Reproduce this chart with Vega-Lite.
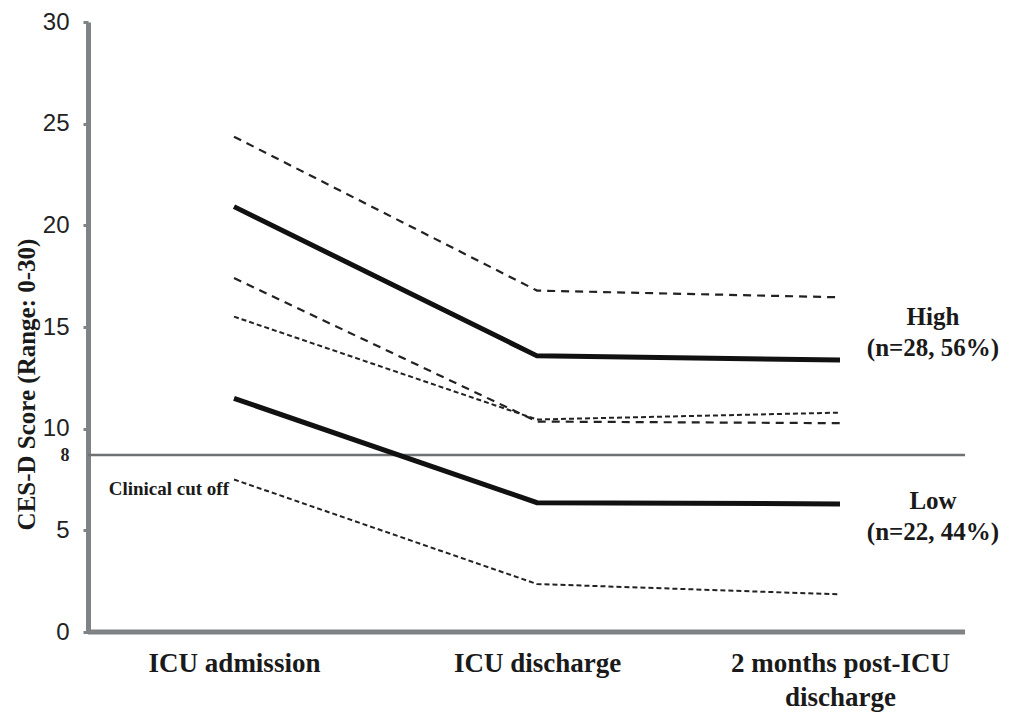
{
  "$schema": "https://vega.github.io/schema/vega-lite/v6.json",
  "autosize": {"type": "none"},
  "width": 877,
  "height": 610,
  "padding": {"left": 88, "top": 22, "right": 47, "bottom": 83},
  "background": "white",
  "config": {"view": {"stroke": null}},
  "datasets": {
    "lines": [
      {"series": "High mean", "time": "ICU admission", "score": 20.92},
      {"series": "High mean", "time": "ICU discharge", "score": 13.58},
      {"series": "High mean", "time": "2 months post-ICU discharge", "score": 13.38},
      {"series": "High upper", "time": "ICU admission", "score": 24.36},
      {"series": "High upper", "time": "ICU discharge", "score": 16.79},
      {"series": "High upper", "time": "2 months post-ICU discharge", "score": 16.46},
      {"series": "High lower", "time": "ICU admission", "score": 17.41},
      {"series": "High lower", "time": "ICU discharge", "score": 10.35},
      {"series": "High lower", "time": "2 months post-ICU discharge", "score": 10.27},
      {"series": "Low mean", "time": "ICU admission", "score": 11.49},
      {"series": "Low mean", "time": "ICU discharge", "score": 6.36},
      {"series": "Low mean", "time": "2 months post-ICU discharge", "score": 6.3},
      {"series": "Low upper", "time": "ICU admission", "score": 15.51},
      {"series": "Low upper", "time": "ICU discharge", "score": 10.45},
      {"series": "Low upper", "time": "2 months post-ICU discharge", "score": 10.79},
      {"series": "Low lower", "time": "ICU admission", "score": 7.5},
      {"series": "Low lower", "time": "ICU discharge", "score": 2.36},
      {"series": "Low lower", "time": "2 months post-ICU discharge", "score": 1.85}
    ],
    "groups": [
      {"time": "2 months post-ICU discharge", "score": 15.5, "label": "High\n(n=28, 56%)"},
      {"time": "2 months post-ICU discharge", "score": 6.45, "label": "Low\n(n=22, 44%)"}
    ],
    "cutoff": [
      {"time": "ICU admission", "score": 8.7, "label": "Clinical cut off", "labelScore": 7.05}
    ],
    "baseline": [
      {"score": 0}
    ]
  },
  "encoding": {
    "x": {
      "field": "time",
      "type": "ordinal",
      "sort": ["ICU admission", "ICU discharge", "2 months post-ICU discharge"],
      "scale": {"type": "point", "range": [146, 752], "padding": 0},
      "axis": {
        "title": null,
        "domain": false,
        "ticks": false,
        "labelAngle": 0,
        "labelFont": "Liberation Serif",
        "labelFontWeight": "bold",
        "labelFontSize": 27,
        "labelColor": "#1a1a1a",
        "labelPadding": 18,
        "labelLineHeight": 34,
        "labelLimit": 400,
        "labelExpr": "datum.value == '2 months post-ICU discharge' ? ['2 months post-ICU', 'discharge'] : datum.label"
      }
    },
    "y": {
      "field": "score",
      "type": "quantitative",
      "scale": {"domain": [0, 30], "nice": false, "zero": true},
      "axis": {
        "title": "CES-D Score (Range: 0-30)",
        "titleFont": "Liberation Serif",
        "titleFontWeight": "bold",
        "titleFontSize": 25,
        "titleColor": "#1a1a1a",
        "titleX": -54,
        "titleY": 362,
        "titleAngle": -90,
        "titleBaseline": "alphabetic",
        "values": [0, 5, 8.7, 10, 15, 20, 25, 30],
        "labelExpr": "datum.value == 8.7 ? '8' : datum.label",
        "labelFont": {"condition": {"test": "datum.value == 8.7", "value": "Liberation Serif"}, "value": "Liberation Sans"},
        "labelFontWeight": {"condition": {"test": "datum.value == 8.7", "value": "bold"}, "value": "normal"},
        "labelFontSize": {"condition": {"test": "datum.value == 8.7", "value": 18}, "value": 24},
        "labelColor": "#222222",
        "labelPadding": 14,
        "grid": false,
        "domainColor": "#7f8385",
        "domainWidth": 5,
        "tickColor": "#7f8385",
        "tickWidth": 3,
        "tickSize": 5,
        "tickOpacity": {"condition": {"test": "datum.value == 8.7", "value": 0}, "value": 1}
      }
    }
  },
  "layer": [
    {
      "data": {"name": "baseline"},
      "mark": {"type": "rule", "color": "#7f8385", "strokeWidth": 5},
      "encoding": {"x": null, "y": {"field": "score", "type": "quantitative"}}
    },
    {
      "data": {"name": "cutoff"},
      "mark": {"type": "rule", "color": "#6e7173", "strokeWidth": 2.5},
      "encoding": {"x": null, "y": {"field": "score", "type": "quantitative"}}
    },
    {
      "data": {"name": "lines"},
      "transform": [{"filter": "indexof(datum.series, 'mean') >= 0"}],
      "mark": {"type": "line", "color": "#111111", "strokeWidth": 5},
      "encoding": {"detail": {"field": "series"}}
    },
    {
      "data": {"name": "lines"},
      "transform": [{"filter": "datum.series == 'High upper' || datum.series == 'High lower'"}],
      "mark": {"type": "line", "color": "#222222", "strokeWidth": 2.2, "strokeDash": [8, 6]},
      "encoding": {"detail": {"field": "series"}}
    },
    {
      "data": {"name": "lines"},
      "transform": [{"filter": "datum.series == 'Low upper' || datum.series == 'Low lower'"}],
      "mark": {"type": "line", "color": "#222222", "strokeWidth": 2, "strokeDash": [5, 3]},
      "encoding": {"detail": {"field": "series"}}
    },
    {
      "data": {"name": "groups"},
      "mark": {"type": "text", "font": "Liberation Serif", "fontWeight": "bold", "fontSize": 25, "color": "#1a1a1a", "lineBreak": "\n", "lineHeight": 31, "dx": 93, "align": "center", "baseline": "middle"},
      "encoding": {"text": {"field": "label"}}
    },
    {
      "data": {"name": "cutoff"},
      "mark": {"type": "text", "font": "Liberation Serif", "fontWeight": "bold", "fontSize": 19, "color": "#1a1a1a", "dx": -5, "align": "right", "baseline": "middle"},
      "encoding": {"text": {"field": "label"}, "y": {"field": "labelScore", "type": "quantitative"}}
    }
  ]
}
